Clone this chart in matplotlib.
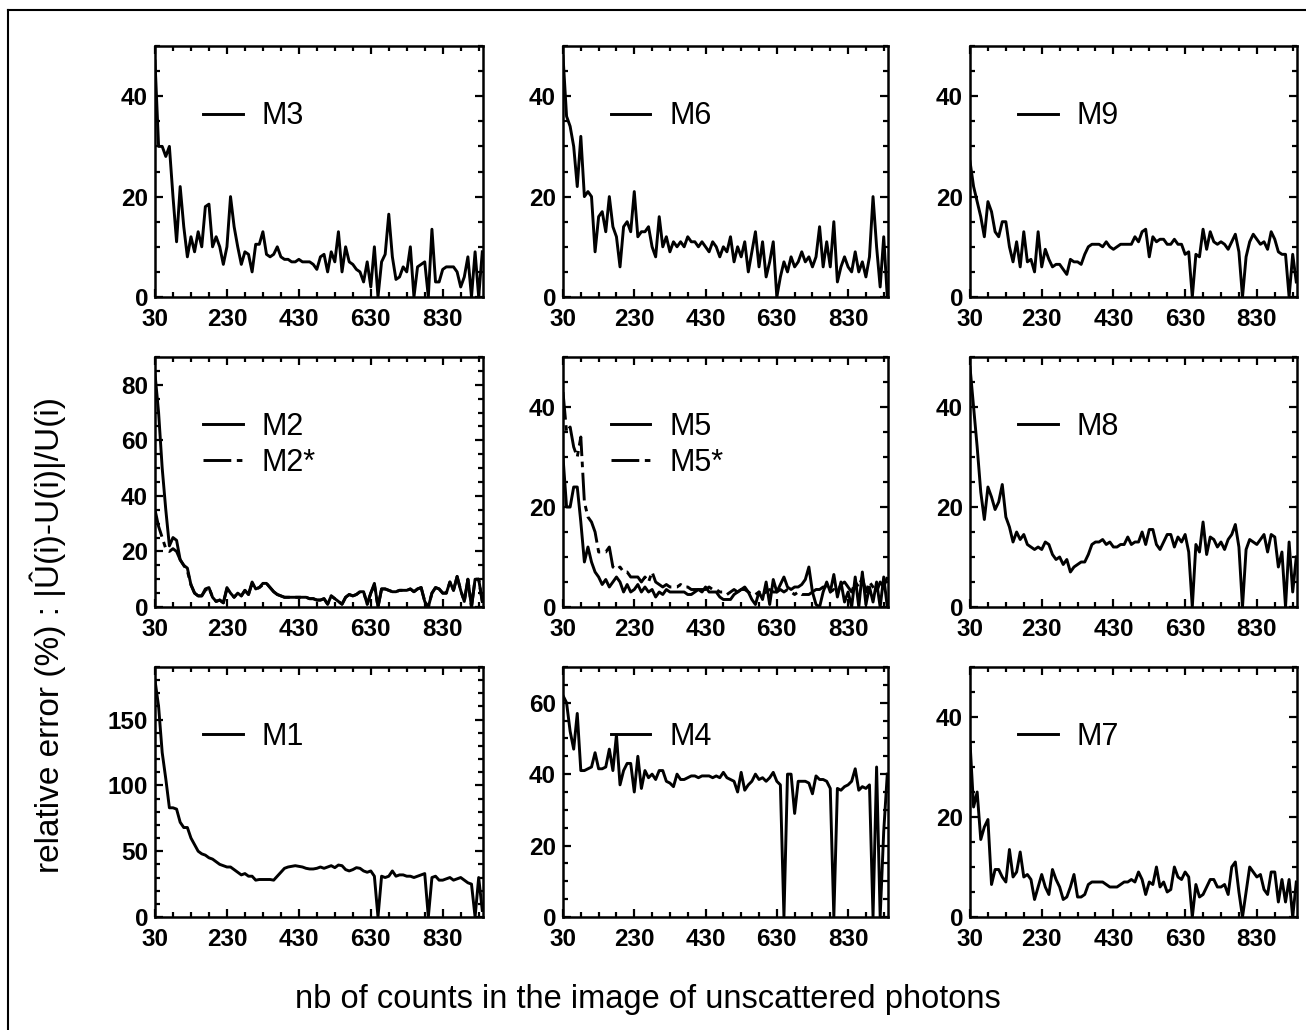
"""3x3 grid of relative error curves (M1..M9) vs nb of counts."""

import numpy as np
import matplotlib
matplotlib.use("Agg")
import matplotlib.pyplot as plt
from matplotlib.ticker import FixedLocator, MultipleLocator
from matplotlib.lines import Line2D

plt.rcParams["font.family"] = ["Liberation Sans", "DejaVu Sans"]
plt.rcParams["lines.scale_dashes"] = False

# x grid: nb of counts, 30 .. 940 step 10
counts = np.arange(30, 941, 10)

m3 = [47, 30, 30, 28, 30, 20, 11, 22, 14, 8,
      12, 9, 13, 10, 18, 18.5, 10, 12, 10, 6.5,
      10, 20, 14, 10, 6.5, 9, 8.5, 5, 10.5, 10.5,
      13, 8.5, 8, 8.5, 10, 8, 7.5, 7.5, 7, 7,
      7.5, 7, 7, 7, 6.5, 5.5, 8, 8.5, 5, 9,
      7, 13, 5, 10, 7, 6.5, 5.5, 5, 3, 7,
      2, 10, 0, 7, 8.5, 16.5, 8, 3.5, 4, 6,
      5, 10, 0, 6, 6.5, 7, 0, 13.5, 3, 3,
      5.5, 6, 6, 6, 5, 2, 4, 8, 0, 9,
      0, 9]

m6 = [48, 36, 34, 30, 22, 32, 20, 21, 20, 9,
      16, 17, 13, 20, 14, 12, 6, 14, 15, 13,
      21, 12, 13, 13, 14, 10, 8, 16, 10, 12,
      9, 11, 10, 11, 10, 12, 11, 11, 10, 11,
      10, 9, 11, 10, 8, 10, 9, 12, 7, 10,
      8, 11, 5, 9, 13, 6, 11, 4, 7, 11,
      0, 4, 7, 5, 8, 6, 7, 9, 7, 8,
      6, 8, 14, 6, 11, 6, 15, 3, 6, 8,
      6, 5, 9, 5, 7, 4, 8, 20, 10, 2,
      12, 0]

m9 = [27, 22, 19, 16, 12, 19, 17, 13, 12, 15,
      15, 10, 7, 11, 6, 13, 7, 7.5, 5, 13,
      6, 9.5, 7.5, 6, 6.5, 6.5, 5.5, 4.5, 7.5, 7,
      7, 6.5, 8.5, 10, 10.5, 10.5, 10.5, 10, 11, 10,
      9.5, 10, 10.5, 10.5, 10.5, 10.5, 12, 11, 13, 13.5,
      8, 12, 11, 11.5, 11.5, 10.5, 10.5, 11.5, 10.5, 10.5,
      8.5, 9, 0, 8.5, 8, 13.5, 9.5, 13, 11, 10.5,
      11, 10.5, 9.5, 11, 12.5, 9, 0, 8, 11, 12.5,
      11.5, 10.5, 11, 9.5, 13, 11.5, 9, 8.5, 8.5, 0,
      8.5, 3]

m2 = [84, 70, 50, 35, 22, 25, 24, 17, 15, 14,
      8, 5, 4, 4, 6.5, 7, 3.5, 2, 2.5, 1.5,
      7, 5, 3.5, 5, 4, 6, 4.5, 9, 6.5, 7,
      8.5, 8.5, 7, 5.5, 4.5, 4, 3.5, 3.5, 3.5, 3.5,
      3.5, 3.5, 3.5, 3, 3, 2.5, 2.5, 3, 1, 4,
      3, 2, 1, 3.5, 4.5, 4, 4.5, 5.5, 5.5, 1,
      5, 8.5, 0, 6.5, 6.5, 6, 5.5, 5.5, 6, 6,
      6, 6.5, 5.5, 6.5, 7, 2, 0, 5, 7, 6.5,
      5, 5, 9, 6, 11, 6, 2, 10, 0, 10,
      10, 2]

m2_star = [35, 29, 25, 21, 20, 21, 20, 17, 15, 13,
           8, 5, 4, 4, 6, 7, 3.5, 2, 2.5, 1.5,
           6.5, 5, 3.5, 5, 4, 6, 4.5, 8.5, 6.5, 7,
           8, 8.5, 7, 5.5, 4.5, 4, 3.5, 3.5, 3.5, 3.5,
           3.5, 3.5, 3.5, 3, 3, 2.5, 2.5, 3, 1, 4,
           3, 2, 1, 3.5, 4.5, 4, 4.5, 5.5, 5.5, 1,
           5, 8, 0, 6.5, 6.5, 6, 5.5, 5.5, 6, 6,
           6, 6.5, 5.5, 6.5, 7, 2, 0, 5, 7, 6.5,
           5, 5, 9, 6, 11, 6, 2, 10, 0, 10,
           10, 2]

m5 = [30, 20, 20, 24, 24, 17, 9, 12, 9, 7,
      6, 4.5, 5.5, 4, 5, 6, 5, 3, 4.5, 3,
      3.5, 4.5, 3, 4, 3, 3.5, 2, 3, 2.5, 3.5,
      3, 3, 3, 3, 3, 2.5, 2.5, 3, 3.5, 3,
      4, 3, 3, 3, 2, 1.5, 1.5, 1.5, 2.5, 3,
      3.5, 4, 3, 1.5, 0.5, 3, 1.5, 5, 0.5, 5.5,
      3, 4.5, 6, 4, 3.5, 4, 4, 4.5, 5.5, 8,
      3, 0.5, 0, 3, 5, 3, 6.5, 2, 5, 1,
      3, 0, 6, 0, 7, 0.5, 4, 1, 5, 0,
      6, 0]

m5_star = [43, 35, 36, 32, 30, 34, 21, 18, 17, 15,
           11, 11, 11, 12, 8, 7.5, 8, 7, 7, 6,
           6, 6, 5, 6, 5, 7, 5, 4.5, 4, 4.5,
           4, 4, 4, 4.5, 4, 4, 3.5, 3.5, 3.5, 3.5,
           3.5, 4, 3.5, 3.5, 3, 3, 2.5, 3, 3.5, 3,
           3.5, 3.5, 3, 2.5, 2.5, 3, 2.5, 3, 3.5, 3,
           3, 3.5, 3, 3.5, 3, 2.5, 3, 2.5, 2.5, 2.5,
           3, 3.5, 3.5, 4, 4, 3, 3.5, 3, 4.5, 5,
           4, 3, 5, 4, 6, 3, 5, 4, 3, 5,
           4, 6]

m8 = [48, 40, 32, 23, 17.5, 24, 22, 19.5, 21, 24.5,
      18, 16, 13, 15, 13.5, 14.5, 12.5, 12, 11.5, 12,
      11.5, 13, 12.5, 10.5, 9.5, 10, 8.5, 9.5, 7, 8,
      8.5, 9, 9, 10.5, 12.5, 13, 13, 13.5, 12.5, 13,
      12, 12, 12.5, 12.5, 14, 12.5, 13, 13, 15, 12.5,
      15.5, 15.5, 12.5, 11.5, 13, 14.5, 14.5, 12, 14, 13,
      14.5, 11, 0, 12.5, 11, 17, 10.5, 14, 13.5, 12,
      13, 11.5, 13.5, 14.5, 16.5, 12, 0, 11.5, 13.5, 13,
      12.5, 13.5, 14.5, 11, 14.5, 14, 8, 11, 0, 13,
      3, 10]

m1 = [180, 160, 125, 105, 83, 83, 82, 72, 68, 68,
      60, 55, 50, 48, 47, 45, 44, 42, 40, 39,
      38, 38, 36, 34, 32, 33, 31, 31, 28, 28.5,
      28.5, 28.5, 28.5, 28, 31, 34, 37, 38, 38.5, 39,
      38.5, 38, 37, 36.5, 36.5, 37, 38, 37, 38, 39,
      37.5, 39.5, 39, 36, 35, 36, 37.5, 37, 35, 34,
      35, 31, 0, 31, 30, 31, 35, 31, 32, 32,
      31, 31, 30, 31, 32, 33, 0, 30, 31, 28,
      28, 29, 30, 28, 29, 30, 28, 26, 25, 0,
      30, 5]

m4 = [62, 60, 52, 47, 57, 41, 41, 41.5, 42, 46,
      41.5, 41.5, 42, 47, 41, 51, 37, 41, 43, 43,
      35, 45, 36, 41, 39, 40, 38.5, 41, 41, 38,
      37.5, 36.5, 40, 38.5, 38.5, 39, 39.5, 39.5, 39, 39.5,
      39.5, 39.5, 39, 39.5, 39, 40.5, 39, 38.5, 38, 35,
      40.5, 35.5, 37, 38, 40, 38.5, 39, 38, 39, 40.5,
      38, 37, 0, 40, 40, 29, 38, 38, 38, 37.5,
      34.5, 39.5, 38.5, 38.5, 38, 36, 0, 36, 35.5, 36.5,
      37, 38, 41.5, 35.5, 36.5, 36, 37, 0, 42, 0,
      24, 40]

m7 = [35, 22, 25, 15.5, 18, 19.5, 6.5, 9.5, 9.5, 8,
      7, 13.5, 8, 9, 13, 8, 8.5, 7.5, 3.5, 6,
      8.5, 6, 4.5, 9.5, 7.5, 6, 3.5, 4, 6, 8.5,
      4, 4, 4.5, 6.5, 7, 7, 7, 7, 6.5, 6,
      6, 6, 6.5, 7, 7, 7.5, 7, 9, 7.5, 4.5,
      7, 6.5, 10, 6, 7, 5, 5.5, 10, 8, 7.5,
      9, 8, 0, 6.5, 4, 4.5, 6, 7.5, 7.5, 6,
      6, 6.5, 4.5, 10, 11, 5, 0, 5, 10, 9,
      8, 8.5, 5.5, 4.5, 9, 9, 3, 7.5, 3, 7.5,
      0, 7]

x_ticks = [30, 230, 430, 630, 830]

# (row, col, series list, y max, y major, y minor)
panels = [
    (0, 0, [("M3", m3)], 50, 20, 5),
    (0, 1, [("M6", m6)], 50, 20, 5),
    (0, 2, [("M9", m9)], 50, 20, 5),
    (1, 0, [("M2", m2), ("M2*", m2_star)], 90, 20, 5),
    (1, 1, [("M5", m5), ("M5*", m5_star)], 50, 20, 5),
    (1, 2, [("M8", m8)], 50, 20, 5),
    (2, 0, [("M1", m1)], 190, 50, 10),
    (2, 1, [("M4", m4)], 70, 20, 5),
    (2, 2, [("M7", m7)], 50, 20, 5),
]

W, H = 1306, 1030
col_left = [155, 563, 970]
col_right = [483, 888, 1297]
row_top = [46, 357, 667]
row_bottom = [297, 607, 917]

fig = plt.figure(figsize=(W / 100, H / 100), dpi=100)

for row, col, series, ymax, ymaj, ymin in panels:
    l, r = col_left[col], col_right[col]
    t, b = row_top[row], row_bottom[row]
    ax = fig.add_axes([l / W, 1 - b / H, (r - l) / W, (b - t) / H])
    handles = []
    for k, (name, vals) in enumerate(series):
        assert len(vals) == len(counts), name
        if k == 0:
            ln, = ax.plot(counts, vals, color="black", lw=2.1)
        else:
            ln, = ax.plot(counts, vals, color="black", lw=2.1, dashes=(20, 4, 4, 4))
        handles.append((ln, name))
    ax.set_xlim(30, 942)
    ax.set_ylim(0, ymax)
    ax.xaxis.set_major_locator(FixedLocator(x_ticks))
    ax.xaxis.set_minor_locator(FixedLocator(np.arange(30, 941, 50)))
    ax.yaxis.set_major_locator(MultipleLocator(ymaj))
    ax.yaxis.set_minor_locator(MultipleLocator(ymin))
    ax.tick_params(which="both", direction="in", top=True, right=True, width=1.6, color="black")
    ax.tick_params(which="major", length=6)
    ax.tick_params(which="minor", length=3.5)
    ax.tick_params(axis="x", pad=8, labelsize=17.5)
    ax.tick_params(axis="y", pad=5, labelsize=17.5)
    for lbl in ax.get_xticklabels() + ax.get_yticklabels():
        lbl.set_fontweight("bold")
    for sp in ax.spines.values():
        sp.set_linewidth(1.8)
    ax.legend([h for h, _ in handles], [n for _, n in handles], loc="upper left",
              bbox_to_anchor=(0.147, 0.78), frameon=False, fontsize=22,
              handlelength=1.3, handletextpad=0.62, labelspacing=0.2,
              borderpad=0, borderaxespad=0)

fig.text(648 / W, 1 - 1008 / H, "nb of counts in the image of unscattered photons",
         ha="center", va="baseline", fontsize=23.5)
fig.text(48 / W, 1 - 635 / H, "relative error (%) : |\u00db(i)-U(i)|/U(i)",
         ha="center", va="center", rotation=90, fontsize=24)

# outer frame (left and top edges visible)
fig.add_artist(Line2D([8 / W, 8 / W], [0, 1 - 10 / H], color="black", lw=1.5))
fig.add_artist(Line2D([8 / W, 1], [1 - 10 / H, 1 - 10 / H], color="black", lw=1.5))

fig.savefig("out.png", dpi=100)
